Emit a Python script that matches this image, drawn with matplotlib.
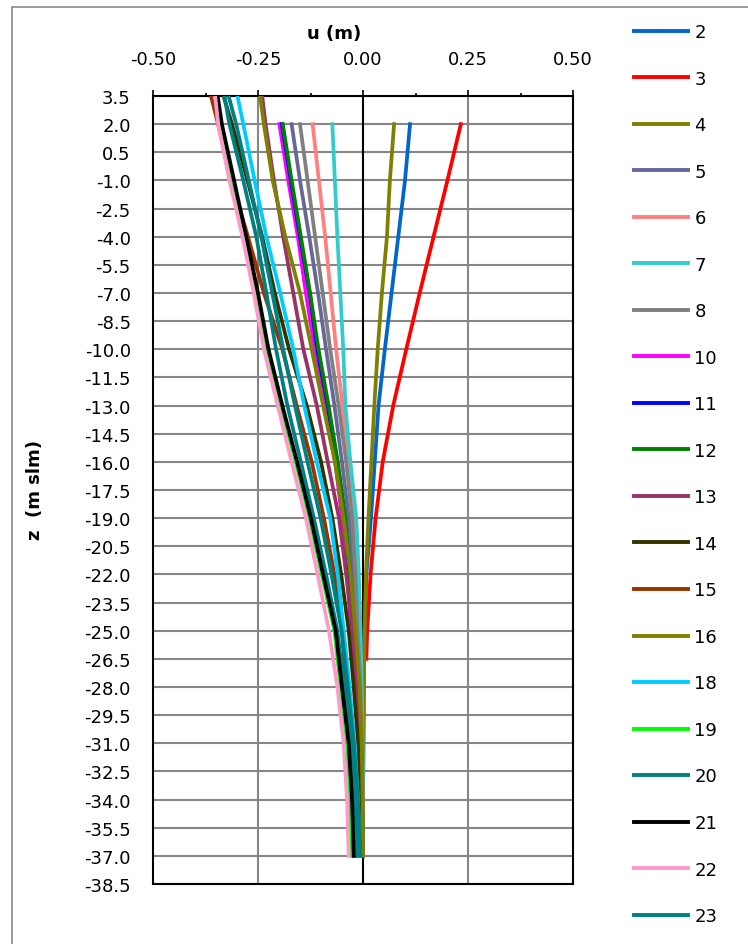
import matplotlib

matplotlib.use("Agg")
import matplotlib.pyplot as plt
import numpy as np
from matplotlib.patches import Rectangle

plt.rcParams["font.family"] = ["DejaVu Sans"]

# depth nodes (m slm)
z_top = [3.5, 2.0, -1.0, -4.0, -7.0, -10.0, -13.0, -16.0, -19.0, -22.0, -25.0, -28.0, -31.0, -34.0, -37.0]
z_mid = [2.0, -1.0, -4.0, -7.0, -10.0, -13.0, -16.0, -19.0, -22.0, -25.0, -28.0, -31.0, -34.0, -37.0]
z_red = [2.0, -1.0, -4.0, -7.0, -10.0, -13.0, -16.0, -19.0, -22.0, -25.0, -26.5]

# displacement u (m) per profile
u_2 = [0.112, 0.100, 0.084, 0.068, 0.052, 0.037, 0.028, 0.019, 0.008, 0.004, 0.002, 0.001, 0.000, 0.000]
u_3 = [0.233, 0.201, 0.168, 0.135, 0.103, 0.072, 0.047, 0.030, 0.018, 0.010, 0.008]
u_4 = [0.074, 0.064, 0.057, 0.045, 0.035, 0.027, 0.020, 0.013, 0.007, 0.004, 0.002, 0.001, 0.000, 0.000]
u_5 = [-0.170, -0.150, -0.128, -0.107, -0.088, -0.068, -0.050, -0.034, -0.022, -0.014, -0.007, -0.003, -0.001, 0.000]
u_6 = [-0.120, -0.105, -0.090, -0.077, -0.064, -0.049, -0.035, -0.022, -0.014, -0.009, -0.004, -0.002, -0.001, 0.000]
u_7 = [-0.073, -0.067, -0.061, -0.054, -0.047, -0.042, -0.030, -0.016, -0.010, -0.006, -0.003, -0.001, 0.000, 0.000]
u_8 = [-0.150, -0.132, -0.114, -0.096, -0.078, -0.058, -0.040, -0.026, -0.018, -0.013, -0.006, -0.002, -0.001, 0.000]
u_10 = [-0.199, -0.178, -0.155, -0.136, -0.115, -0.090, -0.066, -0.050, -0.038, -0.028, -0.015, -0.006, -0.003, -0.002]
u_11 = [-0.193, -0.172, -0.150, -0.127, -0.109, -0.084, -0.062, -0.044, -0.032, -0.022, -0.011, -0.005, -0.002, -0.001]
u_12 = [-0.191, -0.170, -0.148, -0.126, -0.106, -0.082, -0.060, -0.042, -0.030, -0.020, -0.010, -0.004, -0.002, -0.001]
u_13 = [-0.240, -0.232, -0.212, -0.190, -0.166, -0.142, -0.110, -0.084, -0.057, -0.040, -0.025, -0.013, -0.006, -0.003, -0.002]
u_14 = [-0.332, -0.312, -0.275, -0.240, -0.210, -0.176, -0.134, -0.100, -0.073, -0.052, -0.034, -0.022, -0.012, -0.006, -0.004]
u_15 = [-0.362, -0.345, -0.313, -0.274, -0.236, -0.192, -0.158, -0.122, -0.093, -0.068, -0.050, -0.040, -0.028, -0.021, -0.018]
u_16 = [-0.245, -0.236, -0.215, -0.185, -0.150, -0.122, -0.095, -0.067, -0.046, -0.030, -0.018, -0.008, -0.003, -0.001, 0.000]
u_18 = [-0.299, -0.285, -0.258, -0.230, -0.197, -0.166, -0.140, -0.110, -0.078, -0.060, -0.046, -0.032, -0.020, -0.012, -0.008]
u_19 = [-0.350, -0.340, -0.312, -0.282, -0.253, -0.228, -0.196, -0.160, -0.127, -0.098, -0.068, -0.053, -0.038, -0.031, -0.028]
u_20 = [-0.330, -0.318, -0.285, -0.254, -0.230, -0.207, -0.180, -0.148, -0.117, -0.088, -0.061, -0.045, -0.030, -0.020, -0.014]
u_21 = [-0.346, -0.336, -0.307, -0.278, -0.250, -0.225, -0.192, -0.157, -0.124, -0.095, -0.065, -0.050, -0.034, -0.026, -0.022]
u_22 = [-0.352, -0.345, -0.318, -0.287, -0.260, -0.236, -0.203, -0.170, -0.136, -0.108, -0.081, -0.061, -0.046, -0.038, -0.034]
u_23 = [-0.320, -0.302, -0.272, -0.242, -0.216, -0.190, -0.162, -0.132, -0.101, -0.075, -0.051, -0.036, -0.022, -0.012, -0.006]

# (label, depths, values, colour) in drawing order
series = [
    ("2", z_mid, u_2, "#0066CC"),
    ("3", z_red, u_3, "#FF0000"),
    ("4", z_mid, u_4, "#808000"),
    ("5", z_mid, u_5, "#666699"),
    ("6", z_mid, u_6, "#FF8080"),
    ("7", z_mid, u_7, "#33CCCC"),
    ("8", z_mid, u_8, "#808080"),
    ("10", z_mid, u_10, "#FF00FF"),
    ("11", z_mid, u_11, "#0000FF"),
    ("12", z_mid, u_12, "#008000"),
    ("13", z_top, u_13, "#993366"),
    ("14", z_top, u_14, "#333300"),
    ("15", z_top, u_15, "#993300"),
    ("16", z_top, u_16, "#808000"),
    ("18", z_top, u_18, "#00CCFF"),
    ("19", z_top, u_19, "#00FF00"),
    ("20", z_top, u_20, "#008080"),
    ("21", z_top, u_21, "#000000"),
    ("22", z_top, u_22, "#FF99CC"),
    ("23", z_top, u_23, "#008080"),
]

W, H = 748, 945
fig = plt.figure(figsize=(W / 100, H / 100), dpi=100)
ax = fig.add_axes([153 / W, 1 - 885 / H, 420 / W, 788 / H])

grid_col = "#868686"
fs = 13

for label, z, u, col in series:
    ax.plot(u, z, color=col, lw=2.7, label=label, zorder=3)

ax.set_xlim(-0.5, 0.5)
ax.set_ylim(-38.5, 3.5)

# x axis on top
ax.xaxis.tick_top()
ax.set_xticks([-0.5, -0.25, 0.0, 0.25, 0.5])
ax.set_xticklabels(["-0.50", "-0.25", "0.00", "0.25", "0.50"], fontsize=fs)
ax.set_xticks([-0.375, -0.125, 0.125, 0.375], minor=True)
ax.tick_params(axis="x", which="major", direction="out", length=4, width=1.2, pad=16)
ax.tick_params(axis="x", which="minor", direction="out", length=2.5, width=1.2)

yt = np.arange(3.5, -38.6, -1.5)
ax.set_yticks(yt)
ax.set_yticklabels([f"{v:.1f}" for v in yt], fontsize=fs)
ax.tick_params(axis="y", length=0, pad=16)

ax.grid(axis="y", color=grid_col, lw=1.5, zorder=1)
ax.set_axisbelow(True)
for xv in (-0.25, 0.25):
    ax.axvline(xv, color=grid_col, lw=1.5, zorder=1)
ax.axvline(0.0, color="black", lw=1.5, zorder=2)

for sp in ax.spines.values():
    sp.set_color("black")
    sp.set_linewidth(1.5)

fig.text(334 / W, 1 - 34 / H, "u (m)", ha="center", va="center",
         fontsize=fs, fontweight="bold")
fig.text(35 / W, 1 - 490 / H, "z  (m slm)", ha="center", va="center",
         rotation=90, fontsize=fs, fontweight="bold")

leg = fig.legend(loc="upper left", bbox_to_anchor=(634 / W, 1 - 24 / H),
                 frameon=False, fontsize=fs, handlelength=3.0,
                 handletextpad=0.35, labelspacing=1.58, borderpad=0,
                 borderaxespad=0)
for ln in leg.get_lines():
    ln.set_linewidth(2.8)

fig.patches.append(Rectangle((12 / W, -0.1), 1.2, 1.1 - 8 / H,
                             transform=fig.transFigure, fill=False,
                             edgecolor="#8a8a8a", lw=1.2))

fig.savefig("out.png", dpi=100)
